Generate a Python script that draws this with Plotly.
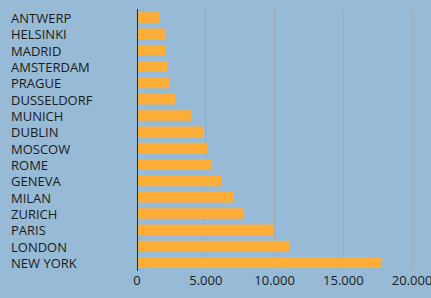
import plotly.graph_objects as go

cities = ["ANTWERP", "HELSINKI", "MADRID", "AMSTERDAM", "PRAGUE", "DUSSELDORF",
          "MUNICH", "DUBLIN", "MOSCOW", "ROME", "GENEVA", "MILAN", "ZURICH",
          "PARIS", "LONDON", "NEW YORK"]
values = [1650, 2080, 2060, 2230, 2380, 2810, 3930, 4850, 5090, 5380, 6110,
          7030, 7760, 9940, 11100, 17750]
tick_vals = [0, 5000, 10000, 15000, 20000]
tick_text = ["0", "5.000", "10.000", "15.000", "20.000"]

bg = "#97BBD6"
font = "Open Sans"

fig = go.Figure(go.Bar(
    x=values, y=cities, orientation="h",
    marker=dict(color="#FDAE38", line=dict(width=0)),
    width=0.65,
))

annotations = [dict(x=0, xref="paper", xshift=-127, y=c, yref="y", text=c,
                    showarrow=False, xanchor="left", yanchor="middle",
                    borderpad=0, height=15, valign="middle",
                    font=dict(family=font, size=13, color="#1a1a1a"))
               for c in cities]

fig.update_layout(
    width=431, height=298,
    margin=dict(l=137, r=12, t=9, b=27, autoexpand=False),
    paper_bgcolor=bg, plot_bgcolor=bg,
    showlegend=False,
    annotations=annotations,
    font=dict(family=font, size=13, color="#1a1a1a"),
    xaxis=dict(range=[0, 20500], tickvals=tick_vals, ticktext=tick_text,
               showgrid=True, gridcolor="#A8A8A8", gridwidth=1,
               zeroline=False, showline=False, ticks="", automargin=False,
               ticklabeloverflow="allow",
               tickfont=dict(family=font, size=13, color="#1a1a1a")),
    yaxis=dict(categoryorder="array", categoryarray=cities, autorange="reversed",
               showticklabels=False, showgrid=False, zeroline=False,
               showline=False, ticks="", automargin=False),
    shapes=[dict(type="line", xref="x", yref="paper", x0=0, x1=0, y0=0, y1=1,
                 line=dict(color="#1C2A36", width=2), layer="above")],
)

fig.write_html("out.html", config={"displayModeBar": False},
               post_script="document.body.style.margin='0px';document.body.style.padding='0px';")
